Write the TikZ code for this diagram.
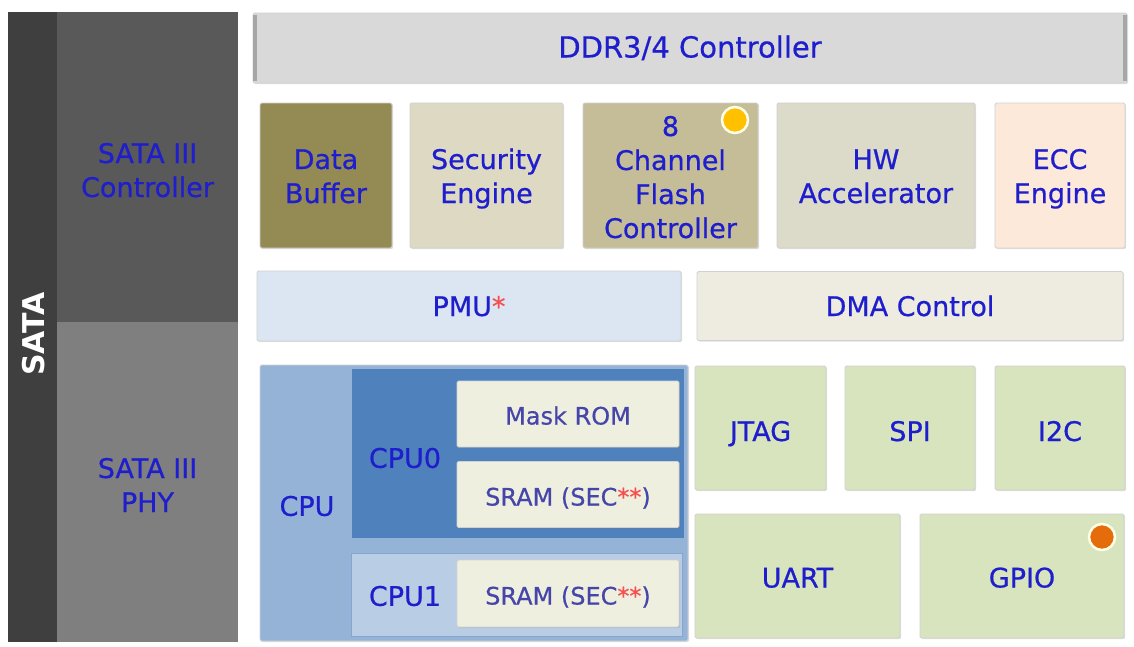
\documentclass[tikz,border=0pt]{standalone}
\usepackage{fontspec}
\setmainfont{DejaVu Sans}
\newfontfamily\medf{DejaVu Sans}[FakeBold=0.6]
\usetikzlibrary{shadows}
\definecolor{txt}{RGB}{30,30,205}
\definecolor{romtxt}{RGB}{70,70,170}
\definecolor{redstar}{RGB}{245,80,80}
\definecolor{sataD}{HTML}{3F3F3F}
\definecolor{sataC}{HTML}{595959}
\definecolor{sataP}{HTML}{7F7F7F}
\definecolor{ddrF}{HTML}{D9D9D9}
\definecolor{bufF}{HTML}{948A54}
\definecolor{secF}{HTML}{DDD9C3}
\definecolor{flashF}{HTML}{C4BD97}
\definecolor{hwF}{HTML}{DCDAC8}
\definecolor{eccF}{HTML}{FDE9D9}
\definecolor{pmuF}{HTML}{DCE6F2}
\definecolor{dmaF}{HTML}{EEECE1}
\definecolor{cpuF}{HTML}{95B3D7}
\definecolor{cpu0F}{HTML}{4F81BD}
\definecolor{cpu1F}{HTML}{B9CDE5}
\definecolor{romF}{HTML}{EFEFDF}
\definecolor{ioF}{HTML}{D7E4BD}
\definecolor{dotY}{HTML}{FFC000}
\definecolor{dotO}{HTML}{E46C0A}
\begin{document}
\begin{tikzpicture}[x=1pt,y=-1pt,
  wh/.style 2 args={minimum width=#1pt, minimum height=#2pt},
  th/.style 2 args={text height=#1pt, text depth=#2pt},
  box/.style={rectangle, rounded corners=1.5pt, inner sep=0pt, align=center,
    text=txt, font=\medf\fontsize{27}{34}\selectfont, draw=black!18, line width=0.8pt,
    th={35}{7},
    drop shadow={opacity=0.25, shadow xshift=1.2pt, shadow yshift=-1.2pt}},
  flat/.style={rectangle, inner sep=0pt, align=center, text=txt,
    font=\medf\fontsize{27}{34}\selectfont},
  small/.style={font=\medf\fontsize{24}{30}\selectfont, text=romtxt, th={28}{6}},
  lbl/.style={inner sep=0pt, text=txt, font=\medf\fontsize{27}{34}\selectfont},
  dot/.style={circle, inner sep=0pt, minimum size=26pt, draw=white!90!yellow, line width=2.5pt}
]
\useasboundingbox[fill=white] (0,0) rectangle (1134,646);

% SATA column
\node[flat, fill=sataD, wh={49}{630}] (sata) at (32.5,327) {};
\node[flat, th={67}{7}, fill=sataC, wh={181}{310}] (satactl) at (147.5,167) {SATA III\\Controller};
\node[flat, th={67}{7}, fill=sataP, wh={181}{320}] (sataphy) at (147.5,482) {SATA III\\PHY};
\node[inner sep=0pt, rotate=90, text=white, font=\fontsize{30}{34}\selectfont\bfseries] (satalbl) at (34,334) {SATA};

% DDR
\node[box, fill=ddrF, wh={874}{70}, font=\medf\fontsize{29}{34}\selectfont, th={26}{7}] (ddr) at (690,48) {DDR3/4 Controller};
\draw[line width=4pt, black!35] ([xshift=2pt,yshift=-2pt]ddr.north west) -- ([xshift=2pt,yshift=2pt]ddr.south west);
\draw[line width=4pt, black!35] ([xshift=-2pt,yshift=-2pt]ddr.north east) -- ([xshift=-2pt,yshift=2pt]ddr.south east);

% Row 2
\node[box, th={62}{7}, fill=bufF, wh={132}{145}] (buf) at (326,175.5) {Data\\Buffer};
\node[box, th={62}{7}, fill=secF, wh={153}{145}] (sec) at (486.5,175.5) {Security\\Engine};
\node[box, th={132}{7}, fill=flashF, wh={175}{145}] (flash) at (670.5,175.5) {8\\Channel\\Flash\\Controller};
\node[box, th={62}{7}, fill=hwF, wh={198}{145}] (hw) at (876,175.5) {HW\\Accelerator};
\node[box, th={62}{7}, fill=eccF, wh={130}{145}] (ecc) at (1060,175.5) {ECC\\Engine};
\node[dot, fill=dotY] (dotflash) at (735,120) {};

% Row 3
\node[box, fill=pmuF, wh={424}{70}, th={27}{7}] (pmu) at (469,306) {PMU\textcolor{redstar}{*}};
\node[box, fill=dmaF, wh={426}{69}, th={27}{7}] (dma) at (910,306) {DMA Control};

% CPU block
\node[box, fill=cpuF, wh={428}{276}] (cpu) at (474,503) {};
\node[flat, fill=cpu0F, wh={332}{169}] (cpu0) at (517.5,453.5) {};
\node[flat, fill=cpu1F, wh={331}{83}, draw=cpu0F!70, line width=1pt] (cpu1) at (517,594.5) {};
\node[box, small, fill=romF, wh={222}{66}, drop shadow={opacity=0}, th={27}{6}] (rom) at (568,414) {Mask ROM};
\node[box, small, fill=romF, wh={222}{66}, drop shadow={opacity=0}] (sram0) at (568,494.5) {SRAM (SEC\textcolor{redstar}{**})};
\node[box, small, fill=romF, wh={222}{67}, drop shadow={opacity=0}] (sram1) at (568,593.5) {SRAM (SEC\textcolor{redstar}{**})};
\node[lbl] (cpulbl) at (307,506) {CPU};
\node[lbl] (cpu0lbl) at (405,458) {CPU0};
\node[lbl] (cpu1lbl) at (405,596) {CPU1};

% IO
\node[box, fill=ioF, wh={131}{124}, th={33}{7}] (jtag) at (760.5,428) {JTAG};
\node[box, fill=ioF, wh={130}{124}, th={33}{7}] (spi) at (910,428) {SPI};
\node[box, fill=ioF, wh={130}{124}, th={33}{7}] (i2c) at (1060,428) {I2C};
\node[box, fill=ioF, wh={205}{124}, th={30}{7}] (uart) at (797.5,576) {UART};
\node[box, fill=ioF, wh={204}{124}, th={30}{7}] (gpio) at (1022,576) {GPIO};
\node[dot, fill=dotO] (dotgpio) at (1102,537) {};
\end{tikzpicture}
\end{document}
